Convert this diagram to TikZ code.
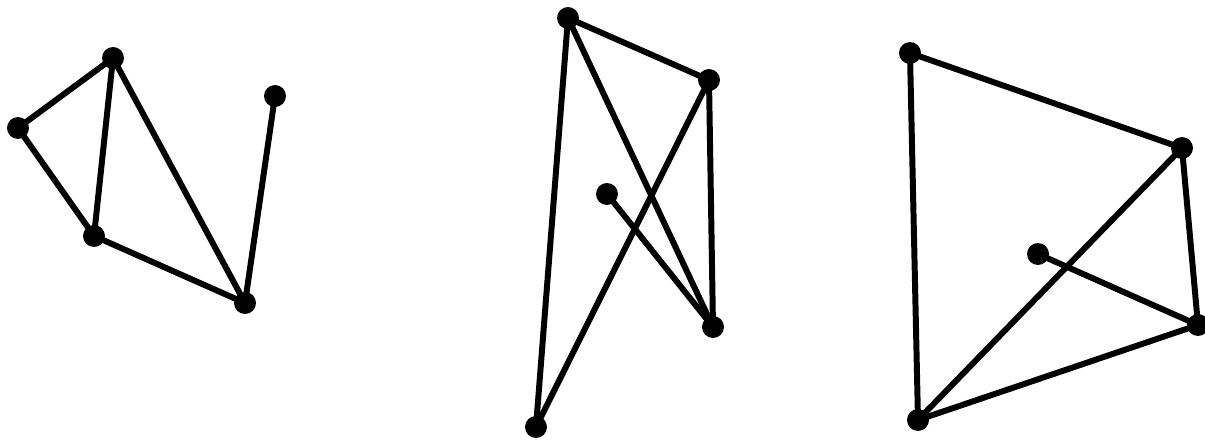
\documentclass[tikz,border=0pt]{standalone}
\tikzset{vertex/.style={circle, fill=black, inner sep=0pt, minimum size=0.44cm},
         link/.style={line width=3.4pt, shorten <=-4pt, shorten >=-4pt}}
\begin{document}
\begin{tikzpicture}[x=0.02cm, y=-0.02cm]
    \useasboundingbox (0,0) rectangle (1205,442);
    % Nodes
    \node (a1) [vertex] at (113,58) {};
    \node (a2) [vertex] at (18,128) {};
    \node (a3) [vertex] at (94,236) {};
    \node (a4) [vertex] at (245,303) {};
    \node (a5) [vertex] at (275,96) {};

    \node (b1) [vertex] at (568,18) {};
    \node (b2) [vertex] at (709,80) {};
    \node (b3) [vertex] at (607,194) {};
    \node (b4) [vertex] at (713,327) {};
    \node (b5) [vertex] at (536,427) {};

    \node (c1) [vertex] at (910,53) {};
    \node (c2) [vertex] at (1182,148) {};
    \node (c3) [vertex] at (1038,254) {};
    \node (c4) [vertex] at (1198,325) {};
    \node (c5) [vertex] at (918,420) {};

    % Edges
    \draw[link] (a1) -- (a2);
    \draw[link] (a2) -- (a3);
    \draw[link] (a1) -- (a3);
    \draw[link] (a1) -- (a4);
    \draw[link] (a3) -- (a4);
    \draw[link] (a4) -- (a5);

    \draw[link] (b1) -- (b2);
    \draw[link] (b1) -- (b5);
    \draw[link] (b1) -- (b4);
    \draw[link] (b2) -- (b4);
    \draw[link] (b2) -- (b5);
    \draw[link] (b3) -- (b4);

    \draw[link] (c1) -- (c2);
    \draw[link] (c1) -- (c5);
    \draw[link] (c2) -- (c4);
    \draw[link] (c2) -- (c5);
    \draw[link] (c3) -- (c4);
    \draw[link] (c4) -- (c5);
\end{tikzpicture}
\end{document}
